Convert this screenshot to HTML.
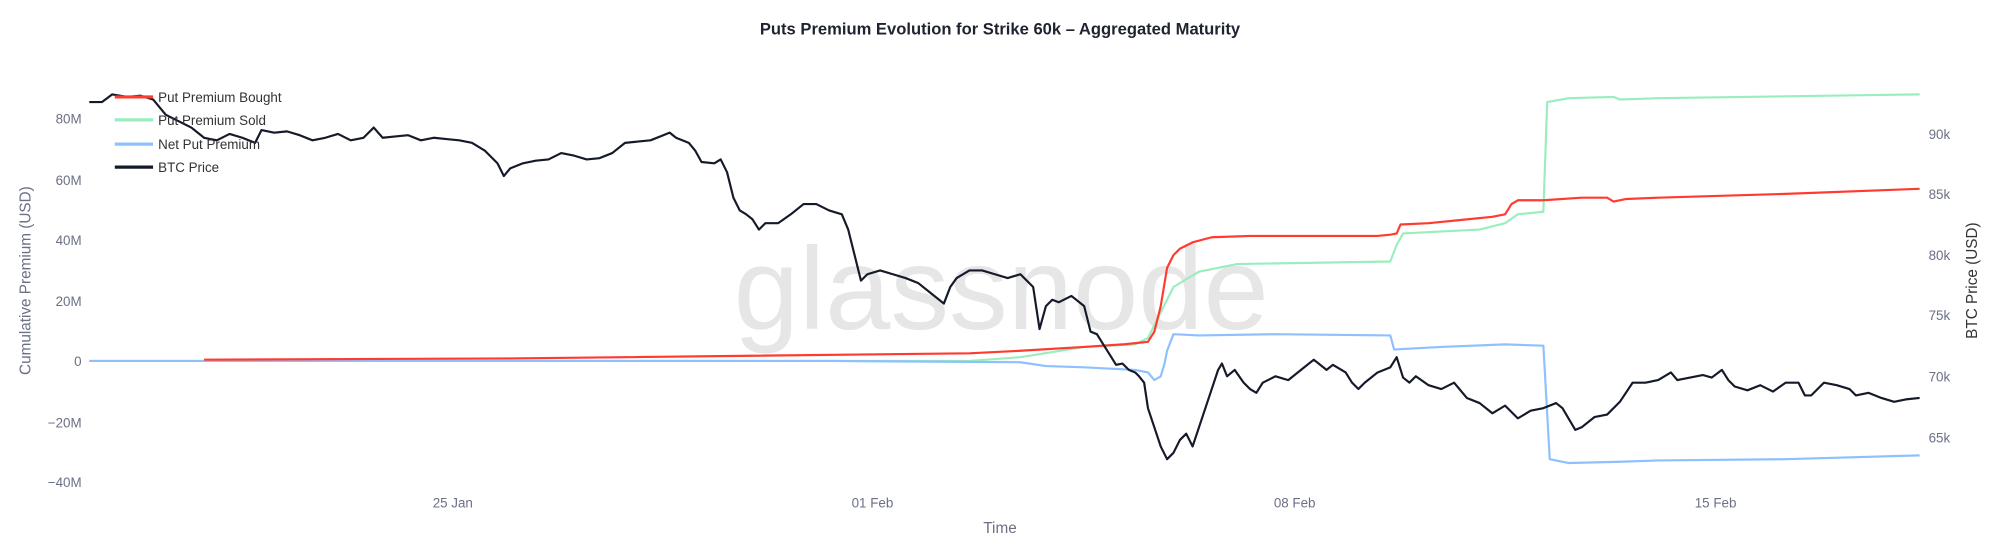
<!DOCTYPE html>
<html><head><meta charset="utf-8"><style>
html,body{margin:0;padding:0;background:#fff;}
svg{display:block;}
text{font-family:"Liberation Sans",Arial,sans-serif;}
</style></head><body>
<svg width="2000" height="559" viewBox="0 0 1568 438.25" preserveAspectRatio="none" xmlns="http://www.w3.org/2000/svg">
<rect width="1568" height="438.25" fill="#fff"/>
<text x="784" y="27" text-anchor="middle" font-size="13" font-weight="bold" fill="#1f2330">Puts Premium Evolution for Strike 60k – Aggregated Maturity</text>
<text x="785" y="258" text-anchor="middle" font-size="92" fill="#e6e6e6">glassnode</text>
<g font-size="10.5" fill="#6b7085" text-anchor="end">
<text x="64" y="97">80M</text><text x="64" y="145">60M</text><text x="64" y="192">40M</text>
<text x="64" y="240">20M</text><text x="64" y="287">0</text><text x="64" y="335">−20M</text><text x="64" y="382">−40M</text>
</g>
<g font-size="10.5" fill="#6b7085">
<text x="1512" y="109">90k</text><text x="1512" y="156">85k</text><text x="1512" y="204">80k</text>
<text x="1512" y="251">75k</text><text x="1512" y="299">70k</text><text x="1512" y="347">65k</text>
</g>
<g font-size="10.5" fill="#6b7085" text-anchor="middle">
<text x="355" y="398">25 Jan</text><text x="684" y="398">01 Feb</text><text x="1015" y="398">08 Feb</text><text x="1345" y="398">15 Feb</text>
</g>
<text x="784" y="418" text-anchor="middle" font-size="12" fill="#6b7085">Time</text>
<text transform="translate(24,220) rotate(-90)" text-anchor="middle" font-size="12" fill="#6b7085">Cumulative Premium (USD)</text>
<text transform="translate(1550,220) rotate(-90)" text-anchor="middle" font-size="12" fill="#333">BTC Price (USD)</text>
<g fill="none" stroke-width="1.7" stroke-linejoin="round">
<polyline stroke="#9aeebd" points="70,283 760,283 800,280 850,272 890,270 900,265 910,245 920,225 940,213 970,207 1090,205 1095,192 1100,183 1160,180 1180,175 1190,168 1210,166 1213,80 1230,77 1265,76 1270,78 1300,77 1505,74"/>
<polyline stroke="#8ec0ff" points="70,283 650,283 800,284 820,287 850,288 890,290 900,292 905,298 910,295 913,285 915,275 920,262 940,263 1000,262 1090,263 1093,274 1130,272 1180,270 1210,271 1215,360 1230,363 1270,362 1300,361 1400,360 1505,357"/>
<polyline stroke="#ff3b30" points="160,282 400,281 760,277 800,275 850,272 880,270 900,268 905,260 910,240 915,210 920,200 925,195 935,190 950,186 980,185 1080,185 1090,184 1095,183 1098,176 1120,175 1150,172 1170,170 1180,168 1185,160 1190,157 1210,157 1240,155 1260,155 1265,158 1275,156 1300,155 1400,152 1505,148"/>
<polyline stroke="#151a2a" points="70,80 80,80 88,74 100,76 110,75 120,78 130,90 140,95 150,100 160,108 170,110 180,105 190,108 200,112 205,102 215,104 225,103 235,106 245,110 255,108 265,105 275,110 285,108 293,100 300,108 310,107 320,106 330,110 340,108 350,109 360,110 370,112 380,118 385,123 390,128 395,138 400,132 410,128 420,126 430,125 440,120 450,122 460,125 470,124 480,120 490,112 500,111 510,110 520,106 525,104 530,108 540,112 545,118 550,127 560,128 565,125 570,135 575,155 580,165 585,168 590,172 595,180 600,175 610,175 620,168 630,160 640,160 650,165 660,168 665,180 670,200 675,220 680,215 690,212 700,215 710,218 720,222 730,230 740,238 745,225 750,218 760,212 770,212 780,215 790,218 800,215 810,225 815,258 820,240 825,235 830,237 840,232 850,240 855,260 860,262 865,270 870,278 875,286 880,285 885,290 890,292 893,295 897,300 900,320 905,335 910,350 915,360 920,355 925,345 930,340 935,350 940,335 945,320 950,305 955,290 958,285 962,295 968,290 975,300 980,305 985,308 990,300 1000,295 1010,298 1020,290 1030,282 1040,290 1045,286 1055,292 1060,300 1065,305 1070,300 1080,292 1090,288 1095,280 1100,296 1105,300 1110,295 1120,302 1130,305 1140,300 1150,312 1160,316 1170,324 1180,318 1190,328 1200,322 1210,320 1220,316 1225,320 1235,337 1240,335 1250,327 1260,325 1270,315 1280,300 1290,300 1300,298 1310,292 1315,298 1325,296 1335,294 1342,296 1350,290 1355,298 1360,303 1370,306 1380,302 1390,307 1400,300 1410,300 1415,310 1420,310 1430,300 1440,302 1450,305 1455,310 1465,308 1475,312 1485,315 1495,313 1505,312"/>
</g>
<g stroke-width="2.5">
<line x1="90" y1="76" x2="120" y2="76" stroke="#ff3b30"/>
<line x1="90" y1="94" x2="120" y2="94" stroke="#9aeebd"/>
<line x1="90" y1="113" x2="120" y2="113" stroke="#8ec0ff"/>
<line x1="90" y1="131" x2="120" y2="131" stroke="#151a2a"/>
</g>
<g font-size="10.5" fill="#333">
<text x="124" y="80">Put Premium Bought</text><text x="124" y="98">Put Premium Sold</text>
<text x="124" y="117">Net Put Premium</text><text x="124" y="135">BTC Price</text>
</g>
</svg>
</body></html>
